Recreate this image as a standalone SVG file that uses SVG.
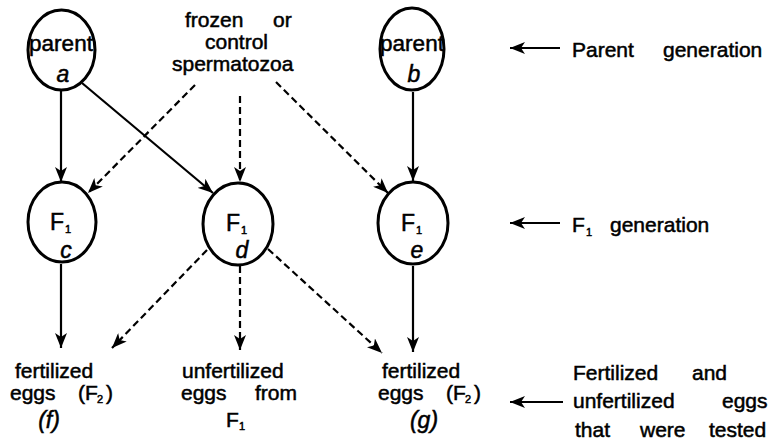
<svg xmlns="http://www.w3.org/2000/svg" width="776" height="444" viewBox="0 0 776 444">
<defs>
<marker id="ah" markerUnits="userSpaceOnUse" markerWidth="16" markerHeight="12" refX="15" refY="6" orient="auto">
<path d="M0,0 L15,6 L0,12 L4,6 Z" fill="#000"/>
</marker>
<style>
text{font-family:"Liberation Sans",Arial,sans-serif;font-size:21px;fill:#000;stroke:#000;stroke-width:0.5}
.p{font-size:22.5px}
.it{font-style:italic;font-size:23px}
.F{font-size:23px}
.sub{font-size:11px}
.n{fill:none;stroke:#000;stroke-width:3}
.c{fill:none;stroke:#000;stroke-width:2.2;marker-end:url(#ah)}
.d{stroke-dasharray:7,4}
</style>
</defs>
<rect width="776" height="444" fill="#fff"/>
<g id="connectors">
<line class="c" x1="61" y1="90" x2="61" y2="182"/>
<line class="c" x1="82" y1="83" x2="213" y2="193"/>
<line class="c d" x1="195" y1="85" x2="88" y2="193"/>
<line class="c d" x1="240" y1="96" x2="240" y2="182"/>
<line class="c d" x1="276" y1="82" x2="388" y2="193"/>
<line class="c" x1="413" y1="92" x2="413" y2="181"/>
<line class="c" x1="61" y1="264" x2="61" y2="348"/>
<line class="c d" x1="207" y1="250" x2="112" y2="348"/>
<line class="c d" x1="240" y1="266" x2="240" y2="350"/>
<line class="c d" x1="268" y1="249" x2="382" y2="353"/>
<line class="c" x1="413" y1="266" x2="413" y2="352"/>
<line class="c" x1="560" y1="48" x2="510" y2="48"/>
<line class="c" x1="560" y1="223" x2="510" y2="223"/>
<line class="c" x1="563" y1="402" x2="510" y2="402"/>
</g>
<g id="parent-a">
<ellipse class="n" cx="61.5" cy="50" rx="33.5" ry="40"/>
<text class="p" x="61" y="51" text-anchor="middle">parent</text>
<text class="it" x="63" y="82" text-anchor="middle">a</text>
</g>
<g id="parent-b">
<ellipse class="n" cx="412" cy="49" rx="32" ry="41"/>
<text class="p" x="412" y="51" text-anchor="middle">parent</text>
<text class="it" x="414" y="82" text-anchor="middle">b</text>
</g>
<g id="sperm">
<text x="185" y="27">frozen</text>
<text x="273" y="27">or</text>
<text x="205" y="49">control</text>
<text x="172" y="71">spermatozoa</text>
</g>
<g id="f1-c">
<ellipse class="n" cx="62" cy="222" rx="34" ry="40"/>
<text class="F" x="50" y="230">F</text><text class="sub" x="65" y="233">1</text>
<text class="it" x="66" y="258" text-anchor="middle">c</text>
</g>
<g id="f1-d">
<ellipse class="n" cx="238" cy="224" rx="35" ry="41"/>
<text class="F" x="226" y="231">F</text><text class="sub" x="241" y="234">1</text>
<text class="it" x="242" y="258" text-anchor="middle">d</text>
</g>
<g id="f1-e">
<ellipse class="n" cx="413" cy="223" rx="35" ry="41"/>
<text class="F" x="401" y="231">F</text><text class="sub" x="416" y="234">1</text>
<text class="it" x="417" y="258" text-anchor="middle">e</text>
</g>
<g id="eggs-f">
<text x="15" y="378">fertilized</text>
<text x="10" y="400">eggs</text>
<text x="78" y="400">(F</text><text class="sub" x="97" y="403">2</text><text x="106" y="400">)</text>
<text class="it" x="49" y="428" text-anchor="middle">(f)</text>
</g>
<g id="eggs-unf">
<text x="182" y="378">unfertilized</text>
<text x="181" y="400">eggs</text>
<text x="255" y="400">from</text>
<text x="226" y="427">F</text><text class="sub" x="239" y="430">1</text>
</g>
<g id="eggs-g">
<text x="382" y="378">fertilized</text>
<text x="378" y="400">eggs</text>
<text x="446" y="400">(F</text><text class="sub" x="465" y="403">2</text><text x="474" y="400">)</text>
<text class="it" x="424" y="428" text-anchor="middle">(g)</text>
</g>
<g id="label-parent">
<text x="572" y="57">Parent</text>
<text x="663" y="57">generation</text>
</g>
<g id="label-f1">
<text x="572" y="232">F</text><text class="sub" x="586" y="236">1</text>
<text x="610" y="232">generation</text>
</g>
<g id="label-eggs">
<text x="573" y="380">Fertilized</text>
<text x="692" y="380">and</text>
<text x="573" y="408">unfertilized</text>
<text x="722" y="408">eggs</text>
<text x="575" y="437">that</text>
<text x="640" y="437">were</text>
<text x="709" y="437">tested</text>
</g>
</svg>
